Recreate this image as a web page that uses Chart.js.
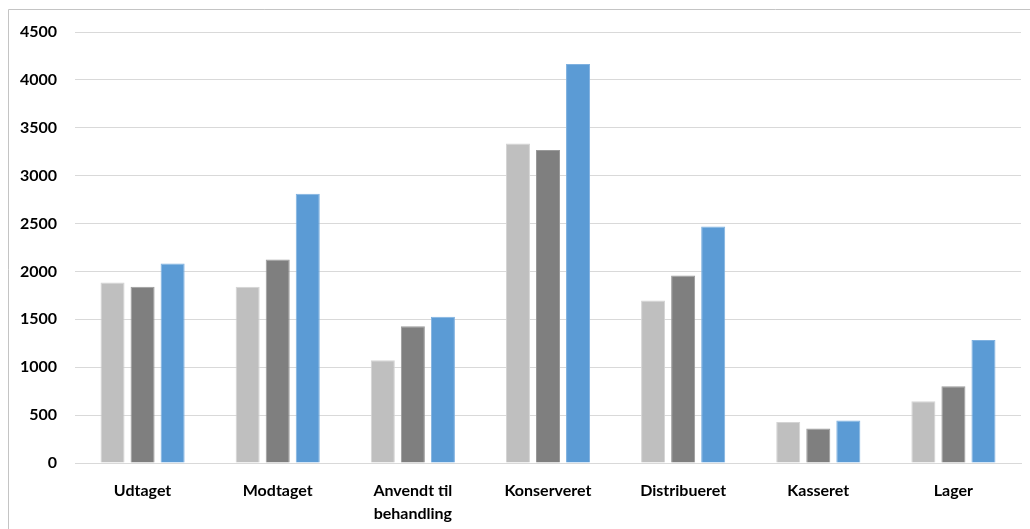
<!DOCTYPE html>
<html>
<head>
<meta charset="utf-8">
<script src="https://cdn.jsdelivr.net/npm/chart.js@4/dist/chart.umd.min.js"></script>
<style>
  html, body { margin: 0; padding: 0; background: #fff; }
  #wrap { width: 1030px; height: 529px; position: relative; }
</style>
</head>
<body>
<div id="wrap"><canvas id="c" width="1030" height="529"></canvas></div>
<script>
// Categories and the three series of counts
const categories = ['Udtaget', 'Modtaget', ['Anvendt til', 'behandling'], 'Konserveret', 'Distribueret', 'Kasseret', 'Lager'];
const series1 = [1885, 1840, 1073, 3337, 1697, 428, 645];
const series2 = [1840, 2125, 1428, 3267, 1958, 360, 801];
const series3 = [2083, 2810, 1526, 4165, 2470, 443, 1285];
const yTicks = [0, 500, 1000, 1500, 2000, 2500, 3000, 3500, 4000, 4500];

const FONT = 'Lato, "Open Sans", "Liberation Sans", sans-serif';

// Thin grey frame around the chart
const framePlugin = {
  id: 'frame',
  beforeDraw(chart) {
    const ctx = chart.ctx;
    ctx.save();
    ctx.fillStyle = '#ffffff';
    ctx.fillRect(0, 0, chart.width, chart.height);
    ctx.strokeStyle = '#c4c4c4';
    ctx.lineWidth = 1;
    ctx.beginPath();
    ctx.moveTo(8.5, chart.height + 2);
    ctx.lineTo(8.5, 9.5);
    ctx.lineTo(chart.width + 2, 9.5);
    ctx.stroke();
    ctx.restore();
  }
};

const mkSet = (label, data, color, border) => ({
  label, data,
  backgroundColor: color,
  borderColor: border,
  borderWidth: 1,
  categoryPercentage: 0.667,
  barPercentage: 0.8
});

new Chart(document.getElementById('c'), {
  type: 'bar',
  data: {
    labels: categories,
    datasets: [
      mkSet('Serie 1', series1, '#bfbfbf', '#d4d4d4'),
      mkSet('Serie 2', series2, '#7f7f7f', '#9a9a9a'),
      mkSet('Serie 3', series3, '#5b9bd5', '#7fb1e0')
    ]
  },
  options: {
    responsive: false,
    animation: false,
    devicePixelRatio: 1,
    layout: { padding: { top: 32, right: 9, left: 0, bottom: 0 } },
    plugins: {
      legend: { display: false },
      tooltip: { enabled: false }
    },
    scales: {
      x: {
        grid: { display: false, drawTicks: false },
        border: { display: true, color: '#d9d9d9', width: 1 },
        ticks: {
          color: '#000',
          padding: 16,
          maxRotation: 0,
          autoSkip: false,
          font: { family: FONT, size: 16, weight: 'bold', lineHeight: 1.45 }
        },
        afterFit(scale) { scale.height = 66; }
      },
      y: {
        min: 0,
        max: 4500,
        afterBuildTicks(scale) { scale.ticks = yTicks.map(v => ({ value: v })); },
        grid: { color: '#d9d9d9', lineWidth: 1, drawTicks: false },
        border: { display: false },
        ticks: {
          color: '#000',
          padding: 18,
          font: { family: FONT, size: 16, weight: 'bold' },
          callback: (v) => String(v)
        },
        afterFit(scale) { scale.width = 75; }
      }
    }
  },
  plugins: [framePlugin]
});
</script>
</body>
</html>
